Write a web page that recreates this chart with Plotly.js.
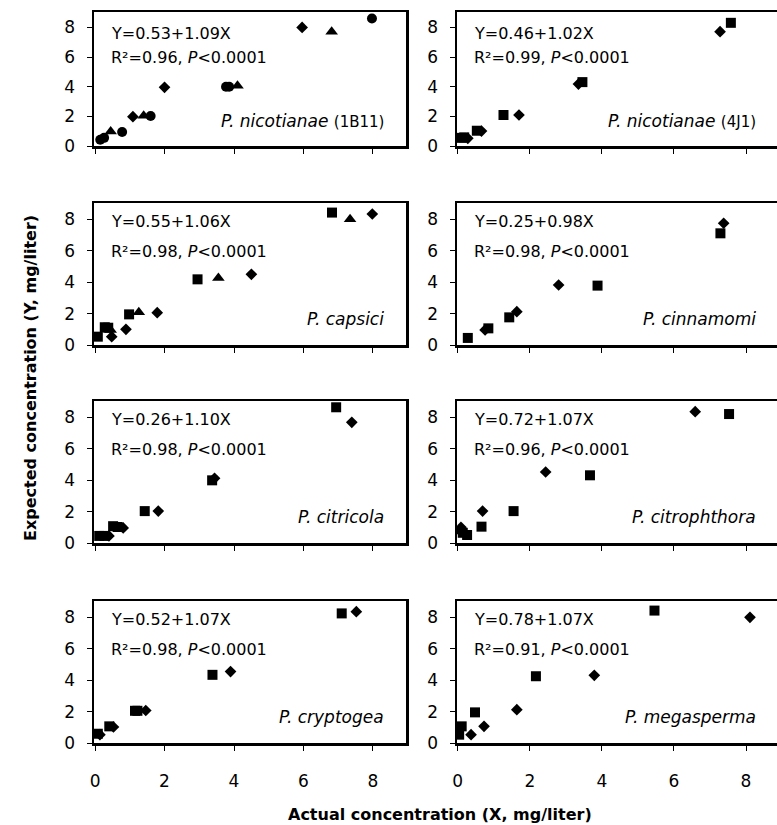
<!DOCTYPE html>
<html><head><meta charset="utf-8">
<script src="https://cdn.plot.ly/plotly-3.0.1.min.js"></script>
<style>html,body{margin:0;padding:0;background:#fff}</style>
</head><body><div id="chart" style="width:777px;height:825px"></div>
<script>
// ---- labels / statistics ----
const speciesNames = ['P. nicotianae','P. nicotianae','P. capsici','P. cinnamomi','P. citricola','P. citrophthora','P. cryptogea','P. megasperma'];
const isolateTags = ['(1B11)','(4J1)','','','','','',''];
const intercepts = [0.53,0.46,0.55,0.25,0.26,0.72,0.52,0.78];
const slopes = [1.09,1.02,1.06,0.98,1.10,1.07,1.07,1.07];
const rSquared = [0.96,0.99,0.98,0.98,0.98,0.96,0.98,0.91];
const pLimit = '0.0001';
const tickVals = [0,2,4,6,8];
const tickLabels = ['0','2','4','6','8'];
const yTitle = 'Expected concentration (Y, mg/liter)';
const xTitle = 'Actual concentration (X, mg/liter)';

// ---- data: actual (x) vs expected (y), per panel and series ----
// P. nicotianae (1B11)
const nic1_diamond_x = [1.09,2.0,5.96];
const nic1_diamond_y = [1.98,3.96,8.0];
const nic1_circle_x = [0.15,0.26,0.78,1.6,3.77,3.86,7.97];
const nic1_circle_y = [0.42,0.55,0.94,2.02,4.0,4.0,8.6];
const nic1_triangle_x = [0.45,1.4,4.1,6.81];
const nic1_triangle_y = [0.97,2.04,4.07,7.71];
// P. nicotianae (4J1)
const nic4_square_x = [0.1,0.18,0.53,1.27,3.46,7.58];
const nic4_square_y = [0.55,0.58,1.03,2.09,4.31,8.31];
const nic4_diamond_x = [0.28,0.66,1.7,3.35,7.28];
const nic4_diamond_y = [0.52,1.01,2.09,4.18,7.71];
// P. capsici
const cap_square_x = [0.08,0.28,0.38,0.98,2.95,6.82];
const cap_square_y = [0.53,1.13,1.1,1.95,4.18,8.43];
const cap_triangle_x = [0.45,1.26,3.55,7.34];
const cap_triangle_y = [0.95,2.08,4.27,8.0];
const cap_diamond_x = [0.48,0.89,1.79,4.5,7.98];
const cap_diamond_y = [0.53,1.0,2.06,4.5,8.34];
// P. cinnamomi
const cin_square_x = [0.28,0.85,1.43,3.88,7.29];
const cin_square_y = [0.45,1.06,1.76,3.78,7.11];
const cin_diamond_x = [0.76,1.64,2.8,7.38];
const cin_diamond_y = [0.96,2.12,3.82,7.75];
// P. citricola
const cit_square_x = [0.12,0.27,0.52,0.65,1.43,3.37,6.94];
const cit_square_y = [0.45,0.45,1.07,1.02,2.03,3.99,8.64];
const cit_diamond_x = [0.4,0.81,1.82,3.44,7.39];
const cit_diamond_y = [0.45,0.96,2.03,4.12,7.68];
// P. citrophthora
const ctp_diamond_x = [0.07,0.09,0.69,2.44,6.59];
const ctp_diamond_y = [0.75,1.0,2.03,4.52,8.36];
const ctp_square_x = [0.14,0.26,0.66,1.55,3.67,7.53];
const ctp_square_y = [0.65,0.51,1.04,2.03,4.31,8.21];
// P. cryptogea
const cry_square_x = [0.08,0.41,1.15,1.22,3.38,7.1];
const cry_square_y = [0.59,1.06,2.05,2.05,4.34,8.25];
const cry_diamond_x = [0.14,0.53,1.46,3.9,7.52];
const cry_diamond_y = [0.53,1.02,2.07,4.55,8.36];
// P. megasperma
const meg_square_x = [0.04,0.11,0.48,2.17,5.46];
const meg_square_y = [0.53,1.06,1.95,4.25,8.43];
const meg_diamond_x = [0.37,0.73,1.64,3.79,8.11];
const meg_diamond_y = [0.53,1.06,2.12,4.31,8.0];

const panelSeries = [
  [['diamond',nic1_diamond_x,nic1_diamond_y],['circle',nic1_circle_x,nic1_circle_y],['triangle-up',nic1_triangle_x,nic1_triangle_y]],
  [['square',nic4_square_x,nic4_square_y],['diamond',nic4_diamond_x,nic4_diamond_y]],
  [['square',cap_square_x,cap_square_y],['triangle-up',cap_triangle_x,cap_triangle_y],['diamond',cap_diamond_x,cap_diamond_y]],
  [['square',cin_square_x,cin_square_y],['diamond',cin_diamond_x,cin_diamond_y]],
  [['square',cit_square_x,cit_square_y],['diamond',cit_diamond_x,cit_diamond_y]],
  [['diamond',ctp_diamond_x,ctp_diamond_y],['square',ctp_square_x,ctp_square_y]],
  [['square',cry_square_x,cry_square_y],['diamond',cry_diamond_x,cry_diamond_y]],
  [['square',meg_square_x,meg_square_y],['diamond',meg_diamond_x,meg_diamond_y]]
];

const W = 777, H = 825;
const colPx = [[94,406],[457,777]];
const rowPx = [[12,146],[203,345],[401,543],[601,743]];
const xRanges = [[-0.03,8.95],[-0.02,8.86]];
const symSize = {'diamond':9,'square':10,'circle':10,'triangle-up':11};
const FONT = 'DejaVu Sans, Liberation Sans, Arial, sans-serif';
const FS = 'font-size:16px';

const traces = [];
const layout = {
  width: W, height: H, margin: {l:0,r:0,t:0,b:0},
  paper_bgcolor:'#fff', plot_bgcolor:'#fff', showlegend:false,
  font:{family:FONT,size:16,color:'#000'},
  annotations: []
};

for (let p = 0; p < 8; p++) {
  const row = Math.floor(p/2), col = p%2;
  const ax = p === 0 ? '' : String(p+1);
  const xa = 'xaxis'+ax, ya = 'yaxis'+ax;
  panelSeries[p].forEach(s => {
    traces.push({type:'scatter', mode:'markers', x:s[1], y:s[2], xaxis:'x'+ax, yaxis:'y'+ax,
      marker:{symbol:s[0], size:symSize[s[0]], color:'#000', line:{width:0}}, hoverinfo:'x+y'});
  });
  layout[xa] = {
    domain:[colPx[col][0]/W, colPx[col][1]/W], anchor:'y'+ax, range:xRanges[col],
    showgrid:false, zeroline:false, showline:true, linecolor:'#000', linewidth:2.5, mirror:true,
    ticks:'outside', ticklen:5, tickwidth:1, tickcolor:'#000',
    tickvals:tickVals, ticktext:tickLabels, showticklabels: row === 3,
    ticklabelstandoff: 16, tickfont:{family:FONT,size:17,color:'#000'}
  };
  layout[ya] = {
    domain:[(H-rowPx[row][1])/H, (H-rowPx[row][0])/H], anchor:'x'+ax, range:[0,9.04],
    showgrid:false, zeroline:false, showline:true, linecolor:'#000', linewidth:2.5, mirror: col === 0,
    ticks:'outside', ticklen:5, tickwidth:1, tickcolor:'#000',
    tickvals:tickVals, ticktext:tickLabels, ticklabelstandoff: 8,
    tickfont:{family:FONT,size:17,color:'#000'}
  };
  const yTop = row === 0 ? 0.836 : 0.87;
  layout.annotations.push({
    xref:'x'+ax+' domain', yref:'y'+ax+' domain', x:0, y:yTop, xshift:15,
    xanchor:'left', yanchor:'middle', showarrow:false,
    text:'Y='+intercepts[p].toFixed(2)+'+'+slopes[p].toFixed(2)+'X',
    font:{family:FONT,size:16,color:'#000'}
  });
  layout.annotations.push({
    xref:'x'+ax+' domain', yref:'y'+ax+' domain', x:0, y:0.657, xshift:15,
    xanchor:'left', yanchor:'middle', showarrow:false,
    text:'R\u00B2='+rSquared[p].toFixed(2)+', <span style="font-style:italic;'+FS+'">P</span>&lt;'+pLimit,
    font:{family:FONT,size:16,color:'#000'}
  });
  const tag = isolateTags[p] ? ' <span style="font-style:normal;font-size:15px">'+isolateTags[p]+'</span>' : '';
  layout.annotations.push({
    xref:'paper', yref:'y'+ax+' domain', x:(col === 0 ? 386 : 758)/W, y:0.185,
    xanchor:'right', yanchor:'middle', showarrow:false,
    text:'<span style="font-style:italic;font-size:17px">'+speciesNames[p]+'</span>'+tag,
    font:{family:FONT,size:17,color:'#000'}
  });
}

layout.annotations.push({
  xref:'paper', yref:'paper', x:31/W, y:(H-378)/H, textangle:-90,
  xanchor:'center', yanchor:'middle', showarrow:false,
  text:'<span style="font-weight:bold;'+FS+'">'+yTitle+'</span>', font:{family:FONT,size:16,color:'#000'}
});
layout.annotations.push({
  xref:'paper', yref:'paper', x:440/W, y:(H-814)/H,
  xanchor:'center', yanchor:'middle', showarrow:false,
  text:'<span style="font-weight:bold;'+FS+'">'+xTitle+'</span>', font:{family:FONT,size:16,color:'#000'}
});

Plotly.newPlot('chart', traces, layout, {staticPlot:true, displayModeBar:false});
</script></body></html>
